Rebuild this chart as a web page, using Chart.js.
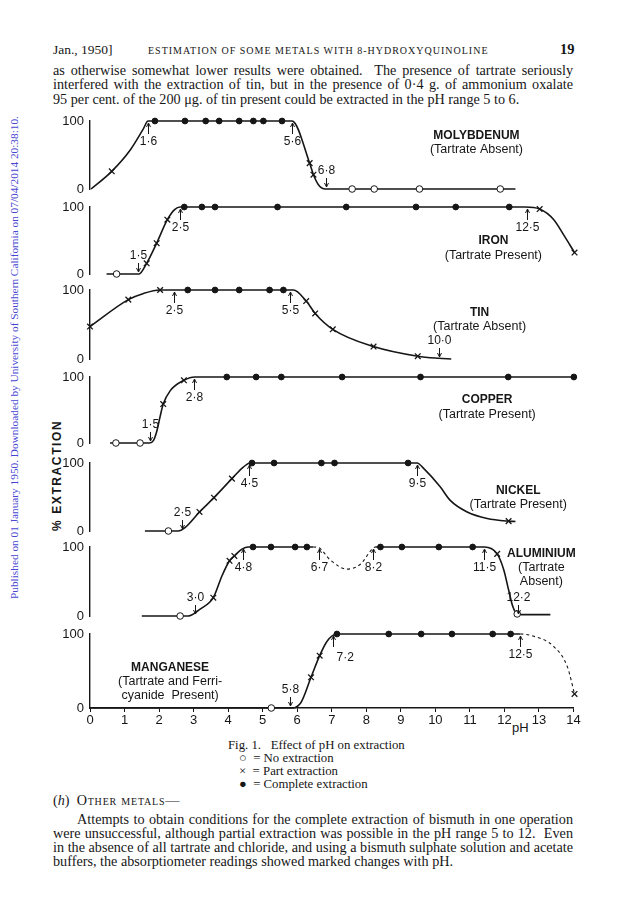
<!DOCTYPE html>
<html>
<head>
<meta charset="utf-8">
<script src="https://cdn.jsdelivr.net/npm/chart.js@4.4.0/dist/chart.umd.min.js"></script>
<style>
  body { margin: 0; background: #fff; }
  #page { position: relative; width: 624px; height: 911px; overflow: hidden; color: #161616;
          font-family: "Liberation Serif", "DejaVu Serif", serif; }
  .t { position: absolute; white-space: nowrap; font-size: 14.2px; line-height: 14px; }
  .j { width: 520px; text-align: justify; text-align-last: justify; }
  .cap { font-size: 12.8px; line-height: 13px; }
  .sans { font-family: "Liberation Sans", Arial, sans-serif; }
  canvas { position: absolute; left: 0; }
  .rot { transform: rotate(-90deg); transform-origin: left top; }
</style>
</head>
<body>
<div id="page">
  <div class="t rot" style="left:8px;top:599px;font-size:11.3px;line-height:12px;color:#4646d2;">Published on 01 January 1950. Downloaded by University of Southern California on 07/04/2014 20:38:10.</div>

  <div class="t" style="left:53px;top:43px;font-size:13.5px;">Jan., 1950]</div>
  <div class="t" style="left:148px;top:44px;font-size:10px;letter-spacing:1px;">ESTIMATION OF SOME METALS WITH 8-HYDROXYQUINOLINE</div>
  <div class="t" style="left:560px;top:42px;font-size:14.5px;font-weight:bold;">19</div>

  <div class="t j" style="left:53px;top:63px;">as otherwise somewhat lower results were obtained.&nbsp; The presence of tartrate seriously</div>
  <div class="t j" style="left:53px;top:77px;">interfered with the extraction of tin, but in the presence of 0·4 g. of ammonium oxalate</div>
  <div class="t" style="left:53px;top:92px;">95 per cent. of the 200 μg. of tin present could be extracted in the pH range 5 to 6.</div>

  <div class="t rot sans" style="left:50px;top:531px;font-size:12px;line-height:14px;font-weight:bold;letter-spacing:1.6px;">% EXTRACTION</div>
  <div class="t sans" style="left:512px;top:721px;font-size:13px;">pH</div>

  <div class="t cap" style="left:228px;top:739px;">Fig. 1.&nbsp;&nbsp; Effect of pH on extraction</div>
  <div class="t cap" style="left:239px;top:752px;">○&nbsp; = No extraction</div>
  <div class="t cap" style="left:239px;top:765px;">×&nbsp; = Part extraction</div>
  <div class="t cap" style="left:239px;top:778px;">●&nbsp; = Complete extraction</div>

  <div class="t" style="left:53px;top:793px;">(<i>h</i>)&nbsp; <span style="font-variant:small-caps;letter-spacing:0.8px;">Other metals</span>—</div>
  <div class="t j" style="left:77px;top:812px;width:496px;">Attempts to obtain conditions for the complete extraction of bismuth in one operation</div>
  <div class="t j" style="left:53px;top:826px;">were unsuccessful, although partial extraction was possible in the pH range 5 to 12.&nbsp; Even</div>
  <div class="t j" style="left:53px;top:840px;">in the absence of all tartrate and chloride, and using a bismuth sulphate solution and acetate</div>
  <div class="t" style="left:53px;top:854px;">buffers, the absorptiometer readings showed marked changes with pH.</div>
</div>

<script>
// squeeze justified lines that are naturally wider than their column
document.querySelectorAll('.j').forEach(el => {
  let ls = 0;
  el.style.textAlignLast = 'left';
  while (el.scrollWidth > el.clientWidth && ls > -1) {
    ls -= 0.05;
    el.style.letterSpacing = ls + 'px';
  }
  el.style.textAlignLast = 'justify';
});

// pH axis and % extraction ticks
const phTicks = [0, 1, 2, 3, 4, 5, 6, 7, 8, 9, 10, 11, 12, 13, 14];
const pctTicks = [0, 100];

// Molybdenum (tartrate absent)
const moCurve = [[0.03, 0], [0.63, 26], [1.16, 57], [1.54, 88], [1.68, 100], [5.85, 100], [6.36, 38], [6.47, 21], [6.62, 6], [6.81, 0], [12.32, 0]];
const moNone = [[7.59, 0], [8.23, 0], [9.54, 0], [11.88, 0]];
const moPart = [[0.63, 26], [6.36, 38], [6.47, 21]];
const moFull = [[1.88, 100], [2.75, 100], [3.35, 100], [3.74, 100], [4.32, 100], [4.73, 100], [5.02, 100], [5.56, 100]];
const moNotes = [[1.68, '1·6', 100], [5.86, '5·6', 100], [6.83, '6·8', 0]];

// Iron (tartrate present)
const feCurve = [[0.48, 0], [1.42, 0], [1.64, 16], [1.93, 46], [2.24, 81], [2.45, 96], [2.61, 100], [12.6, 100], [13.02, 97], [13.43, 81], [13.72, 58], [14.03, 32]];
const feNone = [[0.77, 0]];
const fePart = [[1.64, 16], [1.93, 46], [2.24, 81], [13.02, 97], [14.03, 32]];
const feFull = [[2.73, 100], [3.24, 100], [3.62, 100], [5.43, 100], [7.42, 100], [9.44, 100], [10.59, 100], [12.14, 100]];
const feNotes = [[1.4, '1·5', 0], [2.61, '2·5', 100], [12.66, '12·5', 100]];

// Tin (tartrate absent)
const snCurve = [[0, 47], [1.11, 86], [1.55, 95], [2.03, 100], [5.89, 100], [6.26, 84], [6.52, 66], [7.03, 43], [8.21, 18], [9.49, 4], [10.1, 1], [10.46, 0]];
const snNone = [];
const snPart = [[0, 47], [1.11, 86], [2.03, 100], [6.26, 84], [6.52, 66], [7.03, 43], [8.21, 18], [9.49, 4]];
const snFull = [[2.83, 100], [3.62, 100], [4.32, 100], [5.2, 100], [5.6, 100]];
const snNotes = [[2.44, '2·5', 100], [5.78, '5·5', 100], [10.1, '10·0', 0]];

// Copper (tartrate present)
const cuCurve = [[0.58, 0], [1.72, 0], [1.84, 4], [1.93, 17], [2.03, 40], [2.12, 59], [2.32, 79], [2.72, 95], [3.04, 100], [14.01, 100]];
const cuNone = [[0.75, 0], [1.45, 0]];
const cuPart = [[2.12, 59], [2.72, 95]];
const cuFull = [[3.96, 100], [4.81, 100], [5.54, 100], [7.3, 100], [9.57, 100], [12.11, 100], [14.01, 100]];
const cuNotes = [[1.74, '1·5', 0], [3.0, '2·8', 100]];

// Nickel (tartrate present)
const niCurve = [[1.59, 0], [2.55, 0], [2.75, 5], [3.17, 28], [3.59, 49], [4.11, 77], [4.44, 94], [4.64, 100], [9.47, 100], [9.66, 92], [10.14, 65], [10.43, 45], [10.92, 28], [11.5, 18.5], [12.12, 14.5], [12.32, 14]];
const niNone = [[2.27, 0]];
const niPart = [[3.17, 28], [3.59, 49], [4.11, 77], [12.12, 14.5]];
const niFull = [[4.69, 100], [5.33, 100], [6.7, 100], [7.08, 100], [9.21, 100]];
const niNotes = [[2.66, '2·5', 0], [4.59, '4·5', 100], [9.47, '9·5', 100]];

// Aluminium (tartrate absent)
const alCurve = [[1.5, 0], [2.85, 0], [3.19, 10], [3.57, 26.5], [3.82, 58], [4.04, 80], [4.18, 87], [4.4, 97], [4.59, 100], [6.46, 100], [6.62, 99], [6.96, 81], [7.44, 68], [7.83, 75], [8.17, 97], [8.26, 100], [11.42, 100], [11.79, 90], [11.98, 67], [12.12, 38], [12.24, 14], [12.37, 3], [12.5, 2], [13.33, 2]];
const alNone = [[2.61, 0], [12.37, 3]];
const alPart = [[3.57, 26.5], [4.04, 80], [4.18, 87], [11.79, 90]];
const alFull = [[4.72, 100], [5.24, 100], [5.94, 100], [6.28, 100], [8.41, 100], [9.03, 100], [10.1, 100], [11.08, 100]];
const alDashed = [[6.46, 8.26]];
const alNotes = [[3.04, '3·0', 0], [4.44, '4·8', 100], [6.62, '6·7', 100], [8.19, '8·2', 100], [11.4, '11·5', 100], [12.39, '12·2', 0]];

// Manganese (tartrate and ferricyanide present)
const mnCurve = [[0, 0], [5.8, 0], [6.09, 6], [6.4, 41.5], [6.65, 70.7], [6.86, 90], [7.15, 100], [12.46, 100], [12.85, 97], [13.43, 83], [13.82, 56], [14.03, 19]];
const mnNone = [[5.25, 0]];
const mnPart = [[6.4, 41.5], [6.65, 70.7], [14.03, 19]];
const mnFull = [[7.15, 100], [8.65, 100], [9.59, 100], [10.48, 100], [11.66, 100], [12.18, 100]];
const mnDashed = [[12.46, 14.1]];
const mnNotes = [[5.8, '5·8', 0], [7.05, '7·2', 100], [12.46, '12·5', 100]];

const ink = '#161616';
const sans = '"Liberation Sans", Arial, sans-serif';

// y100 / y0 are the page rows of the 100 % and 0 % levels of each strip
const panels = [
  { y100: 121, y0: 189, curve: moCurve, none: moNone, part: moPart, full: moFull, notes: moNotes,
    title: ['MOLYBDENUM', '(Tartrate Absent)'], titleAt: [11.19, 79] },
  { y100: 207, y0: 274, curve: feCurve, none: feNone, part: fePart, full: feFull, notes: feNotes,
    title: ['IRON', '(Tartrate Present)'], titleAt: [11.68, 49] },
  { y100: 290, y0: 359, curve: snCurve, none: snNone, part: snPart, full: snFull, notes: snNotes,
    title: ['TIN', '(Tartrate Absent)'], titleAt: [11.28, 67] },
  { y100: 377, y0: 443, curve: cuCurve, none: cuNone, part: cuPart, full: cuFull, notes: cuNotes,
    title: ['COPPER', '(Tartrate Present)'], titleAt: [11.5, 65] },
  { y100: 463, y0: 531, curve: niCurve, none: niNone, part: niPart, full: niFull, notes: niNotes,
    title: ['NICKEL', '(Tartrate Present)'], titleAt: [12.4, 59] },
  { y100: 547, y0: 616, curve: alCurve, none: alNone, part: alPart, full: alFull, notes: alNotes,
    dashed: alDashed, title: ['ALUMINIUM', '(Tartrate', 'Absent)'], titleAt: [13.07, 90] },
  { y100: 634, y0: 708, curve: mnCurve, none: mnNone, part: mnPart, full: mnFull, notes: mnNotes,
    dashed: mnDashed, title: ['MANGANESE', '(Tartrate and Ferri-', 'cyanide  Present)'], titleAt: [2.32, 54],
    axis: true, rightNotes: ['7·2'] }
];

// arrows with pH values, and the strip captions
const notesPlugin = {
  id: 'notes',
  afterDatasetsDraw(chart) {
    const p = chart.options.plugins.notes;
    const { ctx, scales: { x, y } } = chart;
    ctx.save();
    ctx.fillStyle = ink;
    ctx.strokeStyle = ink;
    ctx.lineWidth = 1;
    ctx.textBaseline = 'middle';
    ctx.font = '12px ' + sans;
    for (const [ph, text, level] of p.marks) {
      const px = Math.round(x.getPixelForValue(ph)) + 0.5;
      const base = y.getPixelForValue(level);
      const dir = level === 100 ? 1 : -1;
      const tip = base + dir * 2;
      const tail = base + dir * (dir > 0 ? 13 : 11);
      ctx.beginPath();
      ctx.moveTo(px, tail);
      ctx.lineTo(px, tip);
      ctx.moveTo(px - 2, tip + dir * 4);
      ctx.lineTo(px, tip);
      ctx.lineTo(px + 2, tip + dir * 4);
      ctx.stroke();
      const right = (p.right || []).includes(text);
      ctx.textAlign = right ? 'left' : 'center';
      ctx.fillText(text, right ? px + 3 : px, base + dir * (right ? 24 : dir > 0 ? 21 : 18));
    }
    ctx.textAlign = 'center';
    const tx = x.getPixelForValue(p.titleAt[0]);
    const ty = y.getPixelForValue(p.titleAt[1]);
    p.title.forEach((line, i) => {
      ctx.font = (i === 0 ? 'bold 12px ' : '12.5px ') + sans;
      ctx.fillText(line, tx, ty + i * 14);
    });
    ctx.restore();
  }
};

const page = document.getElementById('page');

function markers(data, style, radius, fill) {
  return {
    data, showLine: false, pointStyle: style, pointRadius: radius, pointHoverRadius: radius,
    pointBackgroundColor: fill, pointBorderColor: ink, pointBorderWidth: style === 'crossRot' ? 1.3 : 1, clip: false
  };
}

function inDash(ranges, seg) {
  return ranges.some(([a, b]) => seg.p0.parsed.x >= a - 1e-6 && seg.p1.parsed.x <= b + 1e-6);
}

for (const p of panels) {
  const padTop = 20;
  const axisH = p.axis ? 30 : 0;
  const padBottom = p.axis ? 0 : 20;
  const canvas = document.createElement('canvas');
  canvas.width = 624;
  canvas.height = p.y0 - p.y100 + padTop + padBottom + axisH;
  canvas.style.top = (p.y100 - padTop) + 'px';
  page.appendChild(canvas);
  const dashed = p.dashed || [];

  new Chart(canvas, {
    type: 'line',
    data: {
      datasets: [
        markers(p.none, 'circle', 3.3, '#fff'),
        markers(p.part, 'crossRot', 4, ink),
        markers(p.full, 'circle', 2.9, ink),
        {
          data: p.curve, borderColor: ink, borderWidth: 1.6, pointRadius: 0,
          cubicInterpolationMode: 'monotone', fill: false, clip: false,
          segment: { borderDash: seg => inDash(dashed, seg) ? [3, 3] : undefined, borderWidth: seg => inDash(dashed, seg) ? 1.1 : undefined }
        }
      ]
    },
    options: {
      responsive: false,
      animation: false,
      devicePixelRatio: 1,
      layout: { autoPadding: false, padding: { left: 0, right: 50.5, top: padTop, bottom: padBottom } },
      plugins: {
        legend: { display: false },
        tooltip: { enabled: false },
        notes: { marks: p.notes, title: p.title, titleAt: p.titleAt, right: p.rightNotes }
      },
      scales: {
        x: {
          type: 'linear', min: 0, max: 14,
          display: !!p.axis,
          afterBuildTicks: s => { s.ticks = phTicks.map(v => ({ value: v })); },
          afterFit: s => { s.height = axisH; },
          grid: { drawOnChartArea: false, tickLength: 4, color: ink, lineWidth: 1 },
          border: { display: true, color: ink, width: 1.4 },
          ticks: { color: ink, font: { family: sans, size: 13 }, padding: 1, maxRotation: 0, autoSkip: false }
        },
        y: {
          type: 'linear', min: 0, max: 100,
          afterBuildTicks: s => { s.ticks = pctTicks.map(v => ({ value: v })); },
          afterFit: s => { s.width = 90; },
          grid: { display: false, drawTicks: false, tickLength: 0 },
          border: { display: true, color: ink, width: 1.4 },
          ticks: { color: ink, font: { family: sans, size: 13 }, padding: 6 }
        }
      }
    },
    plugins: [notesPlugin]
  });
}
</script>
</body>
</html>
